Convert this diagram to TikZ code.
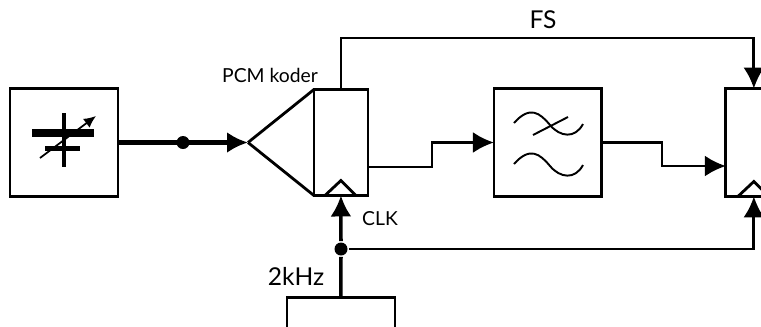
\documentclass[tikz,border=0pt]{standalone}
\usepackage{fontspec}
\setmainfont{Lato}
\usepackage{tikz}
\usetikzlibrary{arrows.meta,calc,positioning}
\tikzset{
    -{Latex[length=0.42cm,width=0.42cm]},
    block/.style ={rectangle, draw, outer sep=0pt, minimum width=2.16cm, minimum height=2.16cm},
    coderbox/.style ={block, minimum width=1.08cm, minimum height=2.12cm},
    junction/.style = {circle, fill, inner sep=0pt, minimum size=0.26cm},
    wirethick/.style = {line width=3.4pt},
    wiremid/.style = {line width=2pt},
    plate/.style = {-, line width=#1},
    wave/.style = {-, line width=1.1pt},
    lbl/.style = {font=\fontsize{11}{13}\selectfont, inner sep=0pt},
    lblbig/.style = {font=\fontsize{14}{16}\selectfont, inner sep=0pt}
}
\begin{document}
\begin{tikzpicture}[x=0.02cm,y=-0.02cm,line width=1.6pt]
	\clip (0,0) rectangle (761,326);
	\node (source) [block] at (64,142.5) {};
	\node (coder) [coderbox, right = 3.92cm of source] {};
	\node (filter) [block, right = 2.52cm of coder] {};
	\node (mux) [block, right = 2.48cm of filter] {};
	\node (osc) [block, below = 2.04cm of coder] {};

	\coordinate (apex) at (248,142.5);
	\coordinate (fstop) at (543,38);
	\coordinate (coderout) at (368,167);
	\coordinate (step1) at (432,167);
	\coordinate (filterin) at (filter.west);
	\coordinate (step2) at (662,166);
	\coordinate (muxin) at (mux.west |- step2);
	\coordinate (muxfs) at ($(mux.north west)+(28,0)$);
	\coordinate (muxclk) at ($(mux.south west)+(28,0)$);

	\node (srcdot) [junction] at (183,142.5) {};
	\node (clkdot) [junction] at (341,249) {};

	\node (pcmlabel) [lbl] at (270,75) {PCM koder};
	\node (fslabel) [lblbig, above = 0.16cm of fstop] {FS};
	\node (clklabel) [lbl] at (380,219) {CLK};
	\node (khzlabel) [lblbig] at (296,276) {2kHz};

	% capacitor
	\draw[plate=2.5pt] (64,113) -- (64,167);
	\draw[plate=5pt] (32,133) -- (94,133);
	\draw[plate=3.4pt] (45,148.5) -- (80,148.5);
	\draw[-{Latex[length=0.24cm,width=0.22cm]},line width=1pt] (40,158) -- (96,116);

	% filter
	\draw[wave] (514,123) .. controls (530,105) and (540,113) .. (550,125) .. controls (560,137) and (575,139) .. (583,124);
	\draw[wave] (533,135) -- (568,117);
	\draw[wave] (514,164) .. controls (530,146) and (540,154) .. (550,166) .. controls (560,178) and (575,180) .. (583,165);

	% coder front
	\draw[-] (apex) -- (coder.north west);
	\draw[-] (apex) -- (coder.south west);
	\draw[-] ($(coder.south)+(-16,0)$) -- ($(coder.south)+(0,-15)$) -- ($(coder.south)+(15,0)$);
	\draw[-] ($(muxclk)+(-16,0)$) -- ($(muxclk)+(0,-15)$) -- ($(muxclk)+(15,0)$);

	\draw[wirethick] (source) -- (apex);
	\draw (coder.north) |- (fstop) -| (muxfs);
	\draw (coderout) -- (step1) |- (filterin);
	\draw (filter.east) -| (step2) -- (muxin);
	\draw[wiremid,-] (osc.north) -- (clkdot);
	\draw[wiremid] (clkdot) -- (coder.south);
	\draw (clkdot) -| (muxclk);
\end{tikzpicture}
\end{document}
